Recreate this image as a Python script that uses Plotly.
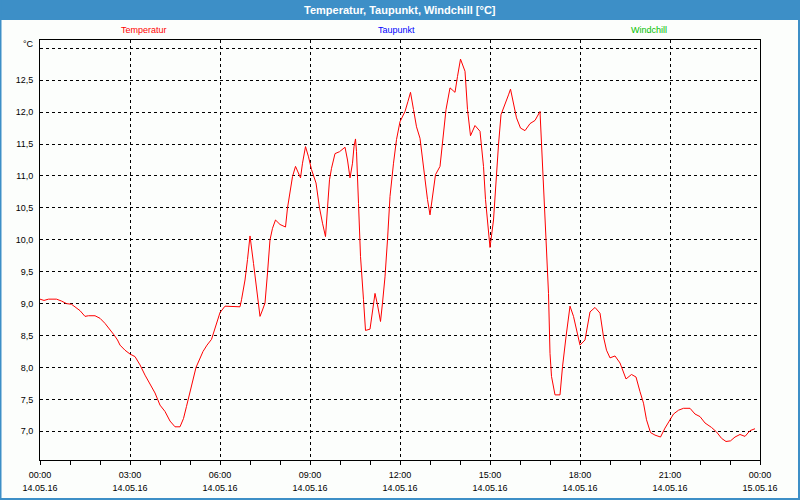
import pandas as pd
import plotly.graph_objects as go

# ---- data ----
minutes = [0, 8, 17, 33, 43, 53, 63, 72, 80, 90, 97, 110, 120, 130, 140, 148, 155, 160, 170, 180,
           190, 200, 210, 220, 230, 240, 250, 260, 270, 280, 287, 293, 300, 312, 326, 334, 343, 353,
           360, 370, 400, 403, 410, 415, 420, 427, 432, 437, 440, 445, 450, 455, 460, 465, 471, 480,
           491, 495, 500, 505, 511, 515, 521, 525, 531, 537, 543, 552, 559, 565, 571, 575, 579, 583,
           590, 599, 610, 615, 620, 625, 628, 631, 633, 637, 641, 647, 651, 660, 665, 670, 675, 681,
           685, 690, 695, 700, 707, 713, 720, 730, 736, 741, 747, 753, 760, 765, 770, 775, 780, 785,
           791, 800, 805, 812, 820, 830, 835, 841, 850, 855, 861, 870, 880, 887, 891, 896, 900, 907,
           912, 917, 922, 930, 937, 941, 947, 953, 961, 970, 980, 990, 1000, 1003, 1007, 1010, 1013,
           1017, 1020, 1023, 1030, 1040, 1045, 1052, 1060, 1067, 1075, 1080, 1090, 1095, 1100, 1110,
           1120, 1127, 1133, 1140, 1150, 1160, 1167, 1172, 1183, 1192, 1200, 1207, 1213, 1221, 1230,
           1241, 1250, 1260, 1267, 1277, 1287, 1300, 1310, 1320, 1330, 1343, 1353, 1363, 1372, 1381,
           1390, 1400, 1410, 1420, 1430]
temperature = [9.07, 9.05, 9.07, 9.07, 9.04, 9.00, 8.99, 8.93, 8.89, 8.80, 8.81, 8.81, 8.77, 8.69,
               8.60, 8.51, 8.43, 8.35, 8.27, 8.21, 8.17, 8.04, 7.88, 7.75, 7.60, 7.41, 7.31, 7.16,
               7.07, 7.07, 7.20, 7.39, 7.62, 8.00, 8.25, 8.35, 8.44, 8.69, 8.86, 8.96, 8.95, 9.06,
               9.37, 9.69, 10.06, 9.63, 9.32, 9.01, 8.80, 8.90, 9.01, 9.48, 10.00, 10.18, 10.31,
               10.24, 10.20, 10.50, 10.78, 10.99, 11.15, 11.07, 10.97, 11.20, 11.46, 11.30, 11.10,
               10.89, 10.50, 10.26, 10.05, 10.50, 10.94, 11.12, 11.35, 11.38, 11.45, 11.25, 10.97,
               11.20, 11.46, 11.58, 11.38, 10.57, 9.74, 9.06, 8.58, 8.60, 8.85, 9.16, 8.98, 8.72,
               9.01, 9.42, 10.00, 10.68, 11.20, 11.57, 11.85, 12.01, 12.17, 12.31, 12.04, 11.77,
               11.59, 11.25, 10.89, 10.63, 10.39, 10.68, 11.02, 11.15, 11.57, 12.04, 12.38, 12.31,
               12.56, 12.83, 12.64, 12.04, 11.63, 11.79, 11.70, 11.15, 10.63, 10.16, 9.88, 10.31,
               10.94, 11.49, 11.96, 12.11, 12.27, 12.36, 12.14, 11.91, 11.75, 11.71, 11.82, 11.87,
               12.01, 11.54, 10.99, 10.47, 9.84, 9.16, 8.22, 7.86, 7.57, 7.57, 8.01, 8.48, 8.96,
               8.80, 8.54, 8.35, 8.43, 8.64, 8.87, 8.94, 8.85, 8.48, 8.27, 8.15, 8.18, 8.07, 7.93,
               7.82, 7.89, 7.85, 7.62, 7.44, 7.18, 6.98, 6.94, 6.91, 7.05, 7.19, 7.27, 7.33, 7.36,
               7.36, 7.27, 7.23, 7.13, 7.06, 6.99, 6.89, 6.84, 6.85, 6.91, 6.95, 6.92, 7.01, 7.04]

tick_hours = [0, 3, 6, 9, 12, 15, 18, 21, 24]
time_labels = ["00:00", "03:00", "06:00", "09:00", "12:00", "15:00", "18:00", "21:00", "00:00"]
date_labels = ["14.05.16"] * 8 + ["15.05.16"]
y_ticks = [7.0, 7.5, 8.0, 8.5, 9.0, 9.5, 10.0, 10.5, 11.0, 11.5, 12.0, 12.5, 13.0]
y_labels = ["7,0", "7,5", "8,0", "8,5", "9,0", "9,5", "10,0", "10,5", "11,0", "11,5", "12,0", "12,5", ""]
series_names = ["Temperatur", "Taupunkt", "Windchill"]
series_colors = ["#ff0000", "#0000ff", "#00c000"]

base = pd.Timestamp("2016-05-14")
times = base + pd.to_timedelta(minutes, unit="min")
tickvals = [base + pd.Timedelta(hours=h) for h in tick_hours]
x_range = [base, base + pd.Timedelta(hours=24)]

FONT = "Liberation Sans"
BLUE = "#3d8fc7"
BG = "#fcfefc"

fig = go.Figure()
fig.add_trace(go.Scatter(x=times, y=temperature, mode="lines",
                         line=dict(color=series_colors[0], width=1),
                         name=series_names[0], showlegend=False, hoverinfo="skip"))
# invisible helper trace so the secondary (date) axis is drawn
fig.add_trace(go.Scatter(x=times[:1], y=temperature[:1], mode="lines", xaxis="x2",
                         line=dict(width=0), opacity=0, showlegend=False, hoverinfo="skip"))

axis_common = dict(type="date", range=x_range, tickvals=tickvals, automargin=False,
                   tickfont=dict(family=FONT, size=9, color="#000000"))

fig.update_layout(
    width=800, height=500,
    margin=dict(l=40, r=40, t=40, b=40),
    paper_bgcolor=BG, plot_bgcolor=BG,
    xaxis=dict(**axis_common, ticktext=time_labels,
               showgrid=True, gridcolor="#000000", griddash="3px,3px", gridwidth=1,
               showline=True, linecolor="#000000", linewidth=1, mirror=True,
               ticks="outside", ticklen=4, tickcolor="#000000", tickwidth=1,
               minor=dict(dtick=3600000, ticks="outside", ticklen=4, tickcolor="#000000",
                          showgrid=False),
               zeroline=False, ticklabelstandoff=2),
    xaxis2=dict(**axis_common, ticktext=date_labels, overlaying="x", side="bottom",
                anchor="y", showgrid=False, showline=False, ticks="", zeroline=False,
                ticklabelstandoff=21),
    yaxis=dict(range=[6.55, 13.13], tickvals=y_ticks, ticktext=y_labels, automargin=False,
               showgrid=True, gridcolor="#000000", griddash="3px,3px", gridwidth=1,
               showline=True, linecolor="#000000", linewidth=1, mirror=True,
               ticks="", zeroline=False,
               tickfont=dict(family=FONT, size=9, color="#000000"), ticklabelstandoff=4),
    shapes=[
        dict(type="rect", xref="paper", yref="paper", x0=-0.06, x1=1.06,
             y0=1 + 20 / 420, y1=1.12, fillcolor=BLUE, line=dict(width=0), layer="below"),
        dict(type="rect", xref="paper", yref="paper", x0=-40 / 720 + 0.5 / 720,
             x1=1 + 39 / 720, y0=-39 / 420, y1=1.2,
             fillcolor="rgba(0,0,0,0)", line=dict(color=BLUE, width=2)),
    ],
    annotations=[
        dict(text="<b>Temperatur, Taupunkt, Windchill [°C]</b>", xref="paper", yref="paper",
             x=0.5, y=1 + 30 / 420, showarrow=False, xanchor="center", yanchor="middle",
             font=dict(family=FONT, size=11, color="#ffffff")),
        dict(text="°C", xref="paper", yref="paper", x=-4 / 720, y=1 - 4 / 420,
             showarrow=False, xanchor="right", yanchor="middle",
             font=dict(family=FONT, size=9, color="#000000")),
    ] + [
        dict(text=name, xref="paper", yref="paper", x=xc, y=1 + 10 / 420,
             showarrow=False, xanchor="center", yanchor="middle",
             font=dict(family=FONT, size=9, color=col))
        for name, col, xc in zip(series_names, series_colors, [(143.5 - 40) / 720, (396 - 40) / 720, (649 - 40) / 720])
    ],
)

fig.write_html("out.html")
